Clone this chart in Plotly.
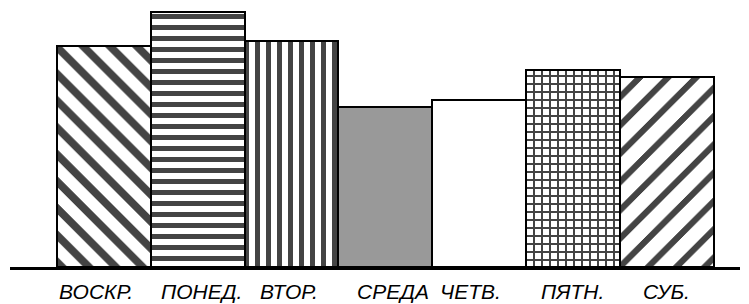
import plotly.graph_objects as go

# Data
days = ["ВОСКР.", "ПОНЕД.", "ВТОР.", "СРЕДА", "ЧЕТВ.", "ПЯТН.", "СУБ."]
values = [65, 75, 66.5, 47, 49, 58, 56]

# Styles
fill_colors = ["white", "white", "white", "#999999", "white", "white", "white"]
pattern_shapes = ["\\", "-", "|", "", "", "+", "/"]
pattern_sizes = [19, 11, 11, 10, 10, 8, 20]
pattern_solidity = [0.4, 0.5, 0.5, 0.3, 0.3, 0.3, 0.3]
label_xshift = [-8, 4, -2.5, 7.5, -9, 0, 0]

fig = go.Figure()
fig.add_trace(go.Bar(
    x=list(range(len(days))),
    y=values,
    width=1,
    marker=dict(
        color=fill_colors,
        line=dict(color="black", width=2),
        pattern=dict(
            shape=pattern_shapes,
            size=pattern_sizes,
            solidity=pattern_solidity,
            fgcolor="black",
            fgopacity=1,
            bgcolor=fill_colors,
        ),
    ),
    hoverinfo="skip",
))

for i, d in enumerate(days):
    fig.add_annotation(
        x=i, xref="x", y=0, yref="paper",
        text="<i>" + d + "</i>", showarrow=False,
        yanchor="middle", yshift=-24, xshift=label_xshift[i],
        font=dict(family="Liberation Sans, Arial, sans-serif", size=21, color="black"),
    )

fig.update_layout(
    width=749, height=304,
    margin=dict(l=10, r=9, t=0, b=37),
    paper_bgcolor="white", plot_bgcolor="white",
    bargap=0,
    showlegend=False,
    xaxis=dict(
        range=[-1.0, 6.78],
        showline=True, linecolor="black", linewidth=3,
        showgrid=False, zeroline=False, showticklabels=False, ticks="",
        fixedrange=True,
    ),
    yaxis=dict(
        range=[0, 78.5],
        visible=False, showgrid=False, zeroline=False, fixedrange=True,
    ),
)

post = """
document.body.style.margin='0';
document.body.style.overflow='hidden';
var gd = document.getElementById('{plot_id}');
function crisp(){
  document.querySelectorAll('pattern path, pattern rect, pattern circle').forEach(function(e){
    e.setAttribute('shape-rendering','crispEdges');
    e.setAttribute('opacity','1');
    e.style.opacity='1';
  });
}
crisp();
setTimeout(crisp, 30);
if (gd && gd.on) { gd.on('plotly_afterplot', crisp); }
"""

fig.write_html("out.html", config={"displayModeBar": False}, post_script=post)
